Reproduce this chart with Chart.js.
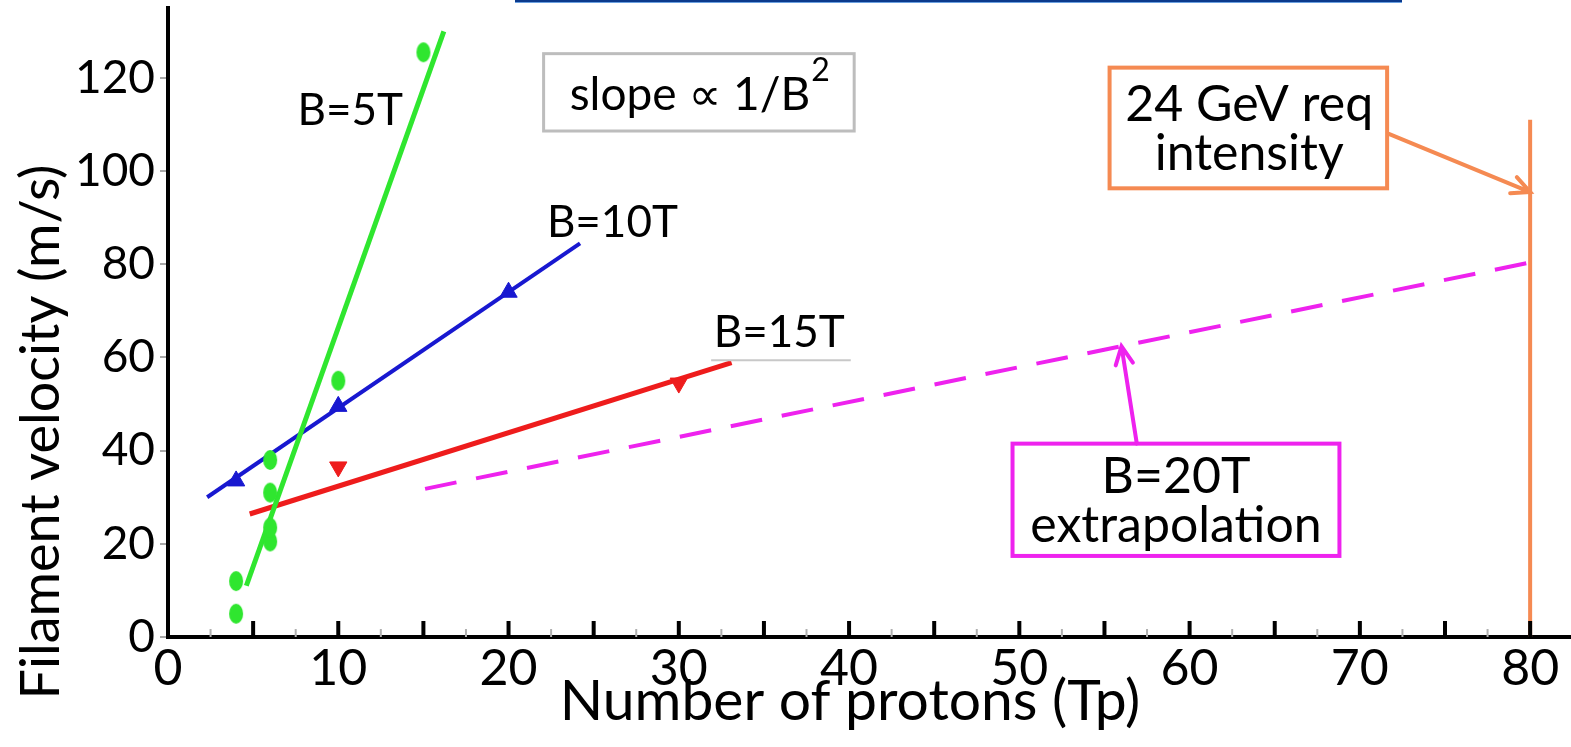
<!DOCTYPE html>
<html>
<head>
<meta charset="utf-8">
<script src="https://cdn.jsdelivr.net/npm/chart.js@4"></script>
<style>
  html, body { margin: 0; padding: 0; background: #fff; }
  #wrap { width: 1571px; height: 747px; }
</style>
</head>
<body>
<div id="wrap"><canvas id="velocityChart" width="1571" height="747"></canvas></div>
<script>
// filament velocity (m/s) against number of protons (Tp)
const b5X = [4, 4, 6, 6, 6, 6, 10, 15];
const b5Y = [5, 12, 20.5, 23.5, 31, 38, 55, 125.5];
const b10X = [4, 10, 20];
const b10Y = [33.5, 49.5, 74];
const b15X = [10, 30];
const b15Y = [36.5, 54.5];

// straight-line fits, start and end points
const fit5X = [4.6, 16.2];
const fit5Y = [11, 130];
const fit10X = [2.3, 24.2];
const fit10Y = [30, 84.5];
const fit15X = [4.8, 33.1];
const fit15Y = [26.4, 58.9];
const fit20X = [15.1, 80.7];
const fit20Y = [31.8, 80.9];

// required intensity marker
const reqX = [80, 80];
const reqY = [0, 111];

const xTickLabels = [0, 10, 20, 30, 40, 50, 60, 70, 80];
const yTickLabels = [0, 20, 40, 60, 80, 100, 120];

const FONT = "Lato, 'DejaVu Sans', sans-serif";
const GREEN = '#2fe62f';
const BLUE = '#1818d0';
const RED = '#ee1c1c';
const MAGENTA = '#ee22ee';
const ORANGE = '#f58a52';

function toPoints(xs, ys) {
  return xs.map((x, i) => ({ x: x, y: ys[i] }));
}

// green markers are slightly tall blobs
const blob = document.createElement('canvas');
blob.width = 16;
blob.height = 22;
(function () {
  const c = blob.getContext('2d');
  c.fillStyle = GREEN;
  c.beginPath();
  c.ellipse(8, 11, 7, 10, 0, 0, Math.PI * 2);
  c.fill();
})();

function lineSet(xs, ys, color, width, dash) {
  return {
    data: toPoints(xs, ys),
    showLine: true,
    borderColor: color,
    borderWidth: width,
    borderDash: dash || [],
    pointRadius: 0,
    order: 2
  };
}

function arrow(ctx, x1, y1, x2, y2, color, width) {
  const a = Math.atan2(y2 - y1, x2 - x1);
  const h = 20;
  ctx.save();
  ctx.strokeStyle = color;
  ctx.lineWidth = width;
  ctx.lineCap = 'round';
  ctx.beginPath();
  ctx.moveTo(x1, y1);
  ctx.lineTo(x2, y2);
  ctx.moveTo(x2 - h * Math.cos(a - 0.45), y2 - h * Math.sin(a - 0.45));
  ctx.lineTo(x2, y2);
  ctx.lineTo(x2 - h * Math.cos(a + 0.45), y2 - h * Math.sin(a + 0.45));
  ctx.stroke();
  ctx.restore();
}

// tick marks on the x axis point up into the plot
const innerTicks = {
  id: 'innerTicks',
  afterDraw(chart) {
    const { ctx } = chart;
    const x = chart.scales.x;
    ctx.save();
    x.ticks.forEach(t => {
      if (t.value <= 0 || t.value > 80) return;
      const px = x.getPixelForValue(t.value);
      const major = t.value % 5 === 0;
      ctx.strokeStyle = major ? '#000' : '#b0b0b0';
      ctx.lineWidth = major ? 4 : 2;
      ctx.beginPath();
      ctx.moveTo(px, x.top);
      ctx.lineTo(px, x.top - (major ? 16 : 8));
      ctx.stroke();
    });
    ctx.restore();
  }
};

// labels, boxes and arrows placed in data coordinates
const notes = {
  id: 'notes',
  afterDatasetsDraw(chart) {
    const { ctx } = chart;
    const x = chart.scales.x;
    const y = chart.scales.y;
    const px = v => x.getPixelForValue(v);
    const py = v => y.getPixelForValue(v);

    ctx.save();
    ctx.fillStyle = '#000';
    ctx.textAlign = 'center';
    ctx.textBaseline = 'middle';
    ctx.font = '44px ' + FONT;

    ctx.fillText('B=5T', px(10.7), py(113));
    ctx.fillText('B=10T', px(26.1), py(89));
    ctx.fillText('B=15T', px(35.9), py(65.2));

    // faint rule under B=15T
    ctx.strokeStyle = '#c8c8c8';
    ctx.lineWidth = 2;
    ctx.beginPath();
    ctx.moveTo(px(31.9), py(59.4));
    ctx.lineTo(px(40.1), py(59.4));
    ctx.stroke();

    // slope box
    ctx.strokeStyle = '#bdbdbd';
    ctx.lineWidth = 3;
    ctx.strokeRect(px(22.06), py(125.2), px(40.3) - px(22.06), py(108.6) - py(125.2));
    ctx.font = '46px ' + FONT;
    const main = 'slope \u221d 1/B';
    const mw = ctx.measureText(main).width;
    ctx.font = '32px ' + FONT;
    const sw = ctx.measureText('2').width;
    const sx = px(31.2) - (mw + sw) / 2;
    ctx.textAlign = 'left';
    ctx.font = '46px ' + FONT;
    ctx.fillText(main, sx, py(116.2));
    ctx.font = '32px ' + FONT;
    ctx.fillText('2', sx + mw + 1, py(121.5));

    // required intensity box and arrow
    ctx.textAlign = 'center';
    ctx.font = '50px ' + FONT;
    ctx.strokeStyle = ORANGE;
    ctx.lineWidth = 4;
    ctx.strokeRect(px(55.3), py(122.2), px(71.6) - px(55.3), py(96.3) - py(122.2));
    ctx.fillText('24 GeV req', px(63.5), py(114.2));
    ctx.fillText('intensity', px(63.5), py(103.6));
    arrow(ctx, px(71.7), py(108), px(80), py(95.5), ORANGE, 4);

    // extrapolation box and arrow
    ctx.strokeStyle = MAGENTA;
    ctx.lineWidth = 4;
    ctx.strokeRect(px(49.6), py(41.5), px(68.8) - px(49.6), py(17.4) - py(41.5));
    ctx.fillText('B=20T', px(59.2), py(34.4));
    ctx.fillText('extrapolation', px(59.2), py(23.9));
    arrow(ctx, px(56.9), py(41.5), px(56.0), py(62.4), MAGENTA, 4);
    ctx.restore();
  },
  afterDraw(chart) {
    const { ctx } = chart;
    ctx.save();
    ctx.fillStyle = '#000';
    ctx.textAlign = 'center';
    ctx.textBaseline = 'middle';

    // x axis title, a little left of the plot centre
    ctx.font = '57px ' + FONT;
    ctx.fillText('Number of protons (Tp)', 850, 702);

    // y axis title, set lower than the plot centre
    ctx.translate(42, 432);
    ctx.rotate(-Math.PI / 2);
    ctx.font = '54px ' + FONT;
    ctx.fillText('Filament velocity (m/s)', 0, 0);
    ctx.restore();

    // slide rule along the top edge
    ctx.save();
    ctx.fillStyle = '#0b3a8c';
    ctx.fillRect(515, 0, 887, 2);
    ctx.fillStyle = '#6aa0e0';
    ctx.fillRect(515, 2, 887, 1);
    ctx.restore();
  }
};

const config = {
  type: 'scatter',
  data: {
    datasets: [
      { data: toPoints(b5X, b5Y), pointStyle: blob, pointRadius: 8, order: 1 },
      { data: toPoints(b10X, b10Y), pointStyle: 'triangle', pointRadius: 10,
        backgroundColor: BLUE, borderColor: BLUE, order: 1 },
      { data: toPoints(b15X, b15Y), pointStyle: 'triangle', rotation: 180, pointRadius: 10,
        backgroundColor: RED, borderColor: RED, order: 1 },
      lineSet(fit5X, fit5Y, GREEN, 5),
      lineSet(fit10X, fit10Y, BLUE, 4),
      lineSet(fit15X, fit15Y, RED, 5),
      lineSet(fit20X, fit20Y, MAGENTA, 4, [32, 20]),
      lineSet(reqX, reqY, ORANGE, 4)
    ]
  },
  options: {
    responsive: false,
    animation: false,
    layout: { autoPadding: false, padding: { top: 8, right: 0, bottom: 0, left: 0 } },
    plugins: {
      legend: { display: false },
      tooltip: { enabled: false }
    },
    scales: {
      x: {
        type: 'linear',
        min: 0,
        max: 82.4,
        grid: { display: false, drawTicks: false },
        border: { display: true, color: '#000', width: 4 },
        ticks: {
          stepSize: 2.5,
          includeBounds: false,
          autoSkip: false,
          maxRotation: 0,
          padding: 2,
          color: '#000',
          font: { family: FONT, size: 50 },
          callback: v => (xTickLabels.includes(v) ? String(v) : '')
        },
        afterFit: s => {
          s.height = 110;
          s.paddingLeft = 0;
          s.paddingRight = 0;
        }
      },
      y: {
        type: 'linear',
        min: 0,
        max: 135,
        grid: { drawOnChartArea: false, drawTicks: true, tickLength: 8, color: '#a8a8a8', lineWidth: 2 },
        border: { display: true, color: '#000', width: 4 },
        ticks: {
          stepSize: 10,
          includeBounds: false,
          padding: 5,
          color: '#000',
          font: { family: FONT, size: 46 },
          callback: v => (yTickLabels.includes(v) ? String(v) : '')
        },
        afterFit: s => {
          s.width = 168;
          s.paddingTop = 0;
          s.paddingBottom = 0;
        }
      }
    }
  },
  plugins: [innerTicks, notes]
};

const velocityChart = new Chart(document.getElementById('velocityChart'), config);
</script>
</body>
</html>
